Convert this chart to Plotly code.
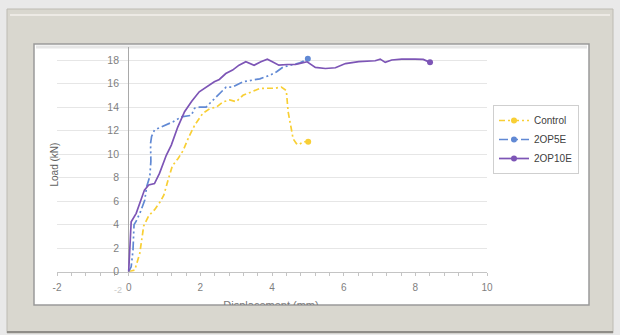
import plotly.graph_objects as go

W, H = 620, 335

# ---------------- data ----------------
series_names = ["Control", "2OP5E", "2OP10E"]

control_x = [0, 0.17, 0.31, 0.42, 0.56, 0.73, 0.87, 0.98, 1.10, 1.22, 1.38, 1.52, 1.68, 1.85, 2.07, 2.27, 2.45, 2.64, 2.82, 3.00, 3.19,
             3.43, 3.66, 3.85, 4.08, 4.26, 4.40, 4.45, 4.54, 4.59, 4.68, 4.75, 4.87, 5.01]
control_y = [0, 0.14, 1.56, 3.9, 4.75, 5.3, 5.9, 6.5, 7.8, 9.0, 9.63, 10.3, 11.47, 12.5, 13.47, 13.88, 14.0, 14.45, 14.6, 14.45, 15.0,
             15.3, 15.58, 15.6, 15.6, 15.7, 15.4, 13.6, 12.2, 11.3, 10.9, 10.8, 11.05, 11.05]

op5e_x = [0, 0.07, 0.12, 0.15, 0.21, 0.33, 0.45, 0.50, 0.59, 0.62, 0.61, 0.64, 0.72, 0.91, 1.05, 1.24, 1.47, 1.61, 1.75, 1.84, 1.98,
          2.16, 2.35, 2.49, 2.72, 2.90, 3.19, 3.47, 3.66, 3.94, 4.13, 4.31, 4.59, 4.78, 5.00]
op5e_y = [0, 0.42, 1.8, 4.0, 4.3, 5.1, 6.1, 7.2, 8.1, 9.4, 10.9, 11.5, 12.05, 12.3, 12.46, 12.75, 13.17, 13.23, 13.3, 13.9, 14.0,
          14.0, 14.6, 15.0, 15.7, 15.7, 16.15, 16.3, 16.4, 16.7, 17.0, 17.4, 17.65, 17.76, 18.1]

op10e_x = [0, 0.07, 0.21, 0.35, 0.44, 0.56, 0.72, 0.86, 1.05, 1.19, 1.37, 1.56, 1.76, 1.97, 2.16, 2.39, 2.53, 2.71, 2.90, 3.08,
           3.27, 3.50, 3.69, 3.87, 4.01, 4.19, 4.43, 4.66, 4.84, 4.98, 5.21, 5.49, 5.77, 6.05, 6.42, 6.88, 7.02, 7.16, 7.34,
           7.62, 7.99, 8.22, 8.41]
op10e_y = [0, 4.25, 4.96, 6.1, 6.94, 7.37, 7.5, 8.36, 9.9, 10.77, 12.3, 13.6, 14.5, 15.3, 15.7, 16.15, 16.35, 16.85, 17.14, 17.56,
           17.85, 17.56, 17.85, 18.07, 17.85, 17.56, 17.62, 17.62, 17.76, 17.85, 17.37, 17.28, 17.34, 17.7, 17.86, 17.94, 18.08,
           17.8, 18.0, 18.08, 18.08, 18.05, 17.8]

x_ticks = [-2, 0, 2, 4, 6, 8, 10]
y_ticks = [0, 2, 4, 6, 8, 10, 12, 14, 16, 18]
x_title = "Displacement (mm)"
y_title = "Load (kN)"

colors = ["#f8cf35", "#6189d4", "#7d55b6"]
dashes = ["6px,3px,2px,3px", "9px,3px,2px,3px,2px,3px", "solid"]
xs = [control_x, op5e_x, op10e_x]
ys = [control_y, op5e_y, op10e_y]

FONT = "Liberation Sans"


def px(x):
    return x / W


def py(y):
    return (H - y) / H


fig = go.Figure()

for name, x, y, c, d in zip(series_names, xs, ys, colors, dashes):
    fig.add_trace(go.Scatter(x=x, y=y, mode="lines", line=dict(color=c, width=1.7, dash=d),
                             showlegend=False, hoverinfo="skip"))
    fig.add_trace(go.Scatter(x=x[-1:], y=y[-1:], mode="markers", marker=dict(color=c, size=6),
                             showlegend=False, hoverinfo="skip"))
    fig.add_trace(go.Scatter(x=[None], y=[None], mode="lines+markers", name=name,
                             line=dict(color=c, width=1.7, dash=d), marker=dict(color=c, size=6)))

# x-axis title, clipped by the frame (text trace in a small subplot)
fig.add_trace(go.Scatter(x=[271], y=[306.5], mode="text", text=[x_title], xaxis="x2", yaxis="y2",
                         textfont=dict(family=FONT, size=11, color="#7a7a7a"), showlegend=False,
                         cliponaxis=True, hoverinfo="skip"))

x_dom = [57 / W, 487 / W]
y0_px, unit = 271.7, 11.76
y_max = 19.1
y_dom = [py(y0_px), py(y0_px - y_max * unit)]

fig.update_layout(
    width=W, height=H,
    margin=dict(l=0, r=0, t=0, b=0, pad=0, autoexpand=False),
    paper_bgcolor="#e9e9e9",
    plot_bgcolor="rgba(0,0,0,0)",
    font=dict(family=FONT, size=10, color="#6f6f6f"),
    xaxis=dict(domain=x_dom, range=[-2, 10], tickvals=x_ticks, ticktext=[str(v) for v in x_ticks],
               automargin=False,
               showgrid=False, zeroline=True, zerolinecolor="#a9a9a9", zerolinewidth=1,
               showline=True, linecolor="#c4c4c4", linewidth=1,
               ticks="outside", ticklen=3, tickcolor="#c4c4c4",
               minor=dict(dtick=0.4, tick0=-2, ticks="outside", ticklen=3, tickcolor="#c4c4c4", showgrid=False),
               tickfont=dict(family=FONT, size=10, color="#7f7f7f"), ticklabelstandoff=3, fixedrange=True),
    yaxis=dict(domain=y_dom, range=[0, y_max], tickvals=y_ticks, ticktext=[str(v) for v in y_ticks],
               anchor="free", position=px(129), automargin=False,
               showgrid=True, gridcolor="#e6e6e6", gridwidth=1, zeroline=False, showline=False, ticks="",
               tickfont=dict(family=FONT, size=10.5, color="#7f7f7f"), ticklabelstandoff=10, fixedrange=True),
    xaxis2=dict(domain=[0, 1], range=[0, W], visible=False, anchor="y2", fixedrange=True, automargin=False),
    yaxis2=dict(domain=[py(305), py(285)], range=[305, 285], visible=False, anchor="x2", fixedrange=True,
                automargin=False),
    legend=dict(x=px(493), y=py(105), xanchor="left", yanchor="top", bgcolor="white",
                bordercolor="#cfcfcf", borderwidth=1, font=dict(family=FONT, size=10, color="#404040"),
                itemwidth=30, tracegroupgap=0),
    showlegend=True,
)

shapes = [
    # outer frame
    dict(type="rect", xref="paper", yref="paper", x0=px(7), x1=px(613), y0=py(333), y1=py(9),
         fillcolor="#d9d7cf", line=dict(color="#bdbbb3", width=1), layer="below"),
    dict(type="line", xref="paper", yref="paper", x0=px(10), x1=px(610), y0=py(15), y1=py(15),
         line=dict(color="#f3f1ec", width=1.5), layer="below"),
    dict(type="line", xref="paper", yref="paper", x0=px(7), x1=px(613), y0=py(332), y1=py(332),
         line=dict(color="#8f8d88", width=2), layer="below"),
    # inner white panel
    dict(type="rect", xref="paper", yref="paper", x0=px(34), x1=px(589), y0=py(305), y1=py(44),
         fillcolor="white", line=dict(color="#9a9a9a", width=1.5), layer="below"),
    dict(type="line", xref="paper", yref="paper", x0=px(36), x1=px(587), y0=py(47), y1=py(47),
         line=dict(color="#e6e6e6", width=3), layer="below"),
]
fig.update_layout(shapes=shapes)

fig.add_annotation(x=px(46), y=py(165), xref="paper", yref="paper", text=y_title, textangle=-90,
                   showarrow=False, font=dict(family=FONT, size=10, color="#5f5f5f"))
fig.add_annotation(x=px(112), y=py(297), xref="paper", yref="paper", text="-2",
                   showarrow=False, font=dict(family=FONT, size=9, color="#c8c8c8"))

fig.write_html("out.html", config={"displayModeBar": False},
               post_script="document.body.style.margin='0';document.body.style.overflow='hidden';")
